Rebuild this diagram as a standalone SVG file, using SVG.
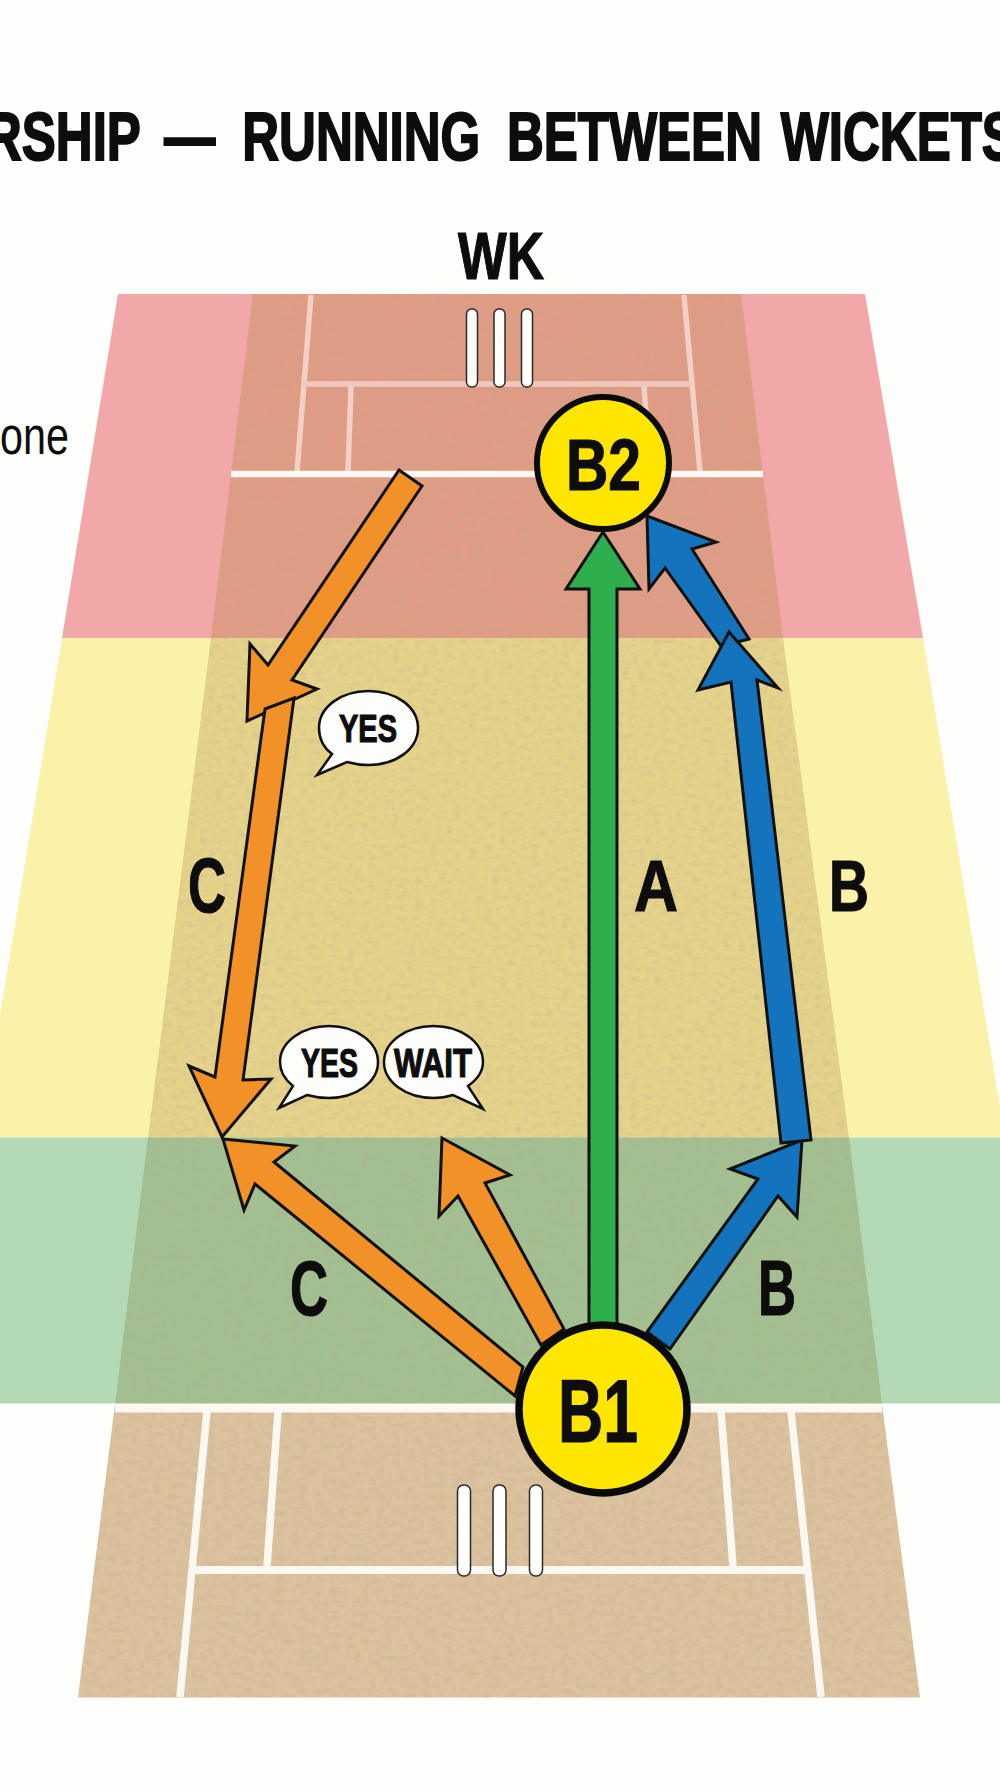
<svg xmlns="http://www.w3.org/2000/svg" width="1000" height="1792" viewBox="0 0 1000 1792">
<defs>
<style>
text{font-family:"Liberation Sans",Arial,sans-serif;font-weight:700;fill:#0d0d0d;stroke:#0d0d0d;stroke-width:1.2;text-anchor:start}
.line{stroke:#fbf7f1;fill:none}
.stump{fill:#fffefa;stroke:#2a2a2a;stroke-width:1.5}
.o{fill:#f39129}.b{fill:#1473bd}.g{fill:#2fae4e}
.arrow polygon{stroke:#111;stroke-width:3;stroke-linejoin:miter;stroke-miterlimit:8}
.bat{fill:#ffe600;stroke:#0a0a0a}
.bub{fill:#fdfdfb;stroke:#111;stroke-width:2.5}
</style>
<filter id="tex" x="0" y="0" width="1" height="1">
<feTurbulence type="fractalNoise" baseFrequency="0.13 0.18" numOctaves="2" seed="4" result="n"/>
<feColorMatrix in="n" type="matrix" values="0 0 0 0 0.45  0 0 0 0 0.38  0 0 0 0 0.3  0 0 0.7 0 -0.3" result="d"/>
<feComposite in="d" in2="SourceAlpha" operator="in" result="c"/>
<feMerge><feMergeNode in="SourceGraphic"/><feMergeNode in="c"/></feMerge>
</filter>
</defs>
<rect width="1000" height="1792" fill="#fefefd"/>
<g id="zones">
<polygon points="118,294 865,294 923,638 62,638" fill="#f2a8a8"/>
<polygon points="62,638 923,638 1005,1137.5 -20,1137.5" fill="#fbf2a9"/>
<rect x="0" y="1137.5" width="1000" height="266" fill="#b3d9b7"/>
</g>
<g id="pitch" filter="url(#tex)">
<polygon points="253,294 741,294 783,638 211,638" fill="#e09c84"/>
<polygon points="211,638 783,638 849,1137.5 148,1137.5" fill="#e5d38a"/>
<polygon points="148,1137.5 849,1137.5 882,1404 115,1404" fill="#a3c091"/>
<polygon points="115,1404 882,1404 920,1697.5 78,1697.5" fill="#dcc29d"/>
</g>
<g id="creases" class="line">
<path d="M311,295L297,472M684,295L700,472" stroke-width="5.5" stroke="#f3d0c6"/>
<path d="M303,384H692" stroke-width="5.5" stroke="#efc9bc"/>
<path d="M351,386L348,472M644,386L650,472" stroke-width="5.5" stroke="#f3d0c6"/>
<path d="M231,474H763" stroke-width="6.5"/>
<path d="M115,1408H882" stroke-width="9"/>
<path d="M195,1570H805" stroke-width="8"/>
<path d="M207,1411L180,1697M278,1411L267,1566M791,1411L821,1697M721,1411L733,1566" stroke-width="7.5"/>
</g>
<g id="stumps-top">
<rect class="stump" x="466.500" y="309" width="11" height="78" rx="5"/>
<rect class="stump" x="494" y="309" width="11" height="78" rx="5"/>
<rect class="stump" x="521.500" y="309" width="11" height="78" rx="5"/>
</g>
<g id="stumps-bottom">
<rect class="stump" x="457.500" y="1485" width="13" height="91" rx="6"/>
<rect class="stump" x="493" y="1485" width="13" height="91" rx="6"/>
<rect class="stump" x="529.500" y="1485" width="13" height="91" rx="6"/>
</g>
<g id="connectors" class="arrow">
<polygon class="o" points="399,470 422,486 292,680 317,689 247,721 250,644 268,665"/>
<polygon class="o" points="265,709 294,698 243,1080 271,1079 222,1137 189,1066 215,1077"/>
<polygon class="o" points="223,1139 295,1146 274,1162 523,1367 515,1396 255,1184 244,1210"/>
<polygon class="o" points="442,1138 510,1175 485,1183 564,1329 541,1345 458,1196 439,1216"/>
<polygon class="g" points="603,532 640,589 617,589 617,1340 589,1340 589,589 566,589"/>
<polygon class="b" points="802,1140 797,1217 778,1196 670,1349 647,1332 758,1179 730,1169"/>
<polygon class="b" points="647,516 716,542 692,549 749,639 721,646 665,568 649,589"/>
<polygon class="b" points="729,632 778,688 757,680 811,1140 781,1143 731,682 698,690"/>
</g>
<g id="B2"><circle class="bat" cx="603" cy="463" r="66" stroke-width="6"/><text x="566" y="490" font-size="72" textLength="75" lengthAdjust="spacingAndGlyphs">B2</text></g>
<g id="B1"><circle class="bat" cx="603" cy="1409" r="84" stroke-width="7.500"/><text x="558" y="1442" font-size="89" textLength="80" lengthAdjust="spacingAndGlyphs">B1</text></g>
<g id="bubble-yes-1"><path class="bub" d="M332,754C320,745 319,735 319,728C319,707 341,691 368.500,691C396,691 418,707 418,728C418,749 396,765 368.500,765C361,765 354,764 347,762L317,775Z"/><text x="339" y="742" font-size="39" textLength="58" lengthAdjust="spacingAndGlyphs">YES</text></g>
<g id="bubble-yes-2"><path class="bub" d="M293,1086C284,1079 280,1071 280,1062C280,1042 302,1026 329,1026C356,1026 378,1042 378,1062C378,1082 356,1098 329,1098C321,1098 314,1097 307,1095L279,1108Z"/><text x="301" y="1077" font-size="41" textLength="57" lengthAdjust="spacingAndGlyphs">YES</text></g>
<g id="bubble-wait"><path class="bub" d="M468,1086C478,1079 483,1071 483,1062C483,1042 461,1026 433.500,1026C406,1026 384,1042 384,1062C384,1082 406,1098 433.500,1098C441,1098 447,1097 453,1095L483,1109Z"/><text x="394" y="1077" font-size="41" textLength="78" lengthAdjust="spacingAndGlyphs">WAIT</text></g>
<g id="labels">
<text transform="scale(0.75,1)" y="160" font-size="68" style="stroke-width:2"><tspan x="-20">RSHIP </tspan><tspan x="219">— </tspan><tspan x="323">RUNNING </tspan><tspan x="676">BETWEEN </tspan><tspan x="1041">WICKETS</tspan></text>
<text x="458" y="279" font-size="67" textLength="86" lengthAdjust="spacingAndGlyphs">WK</text>
<text x="0" y="454" font-size="54" textLength="69" lengthAdjust="spacingAndGlyphs" style="font-weight:400;stroke-width:0">one</text>
<text x="188" y="912" font-size="78" textLength="38" lengthAdjust="spacingAndGlyphs">C</text>
<text x="634" y="911" font-size="72" textLength="44" lengthAdjust="spacingAndGlyphs">A</text>
<text x="829" y="911" font-size="72" textLength="40" lengthAdjust="spacingAndGlyphs">B</text>
<text x="290" y="1315" font-size="78" textLength="38" lengthAdjust="spacingAndGlyphs">C</text>
<text x="758" y="1315" font-size="78" textLength="38" lengthAdjust="spacingAndGlyphs">B</text>
</g>
</svg>
